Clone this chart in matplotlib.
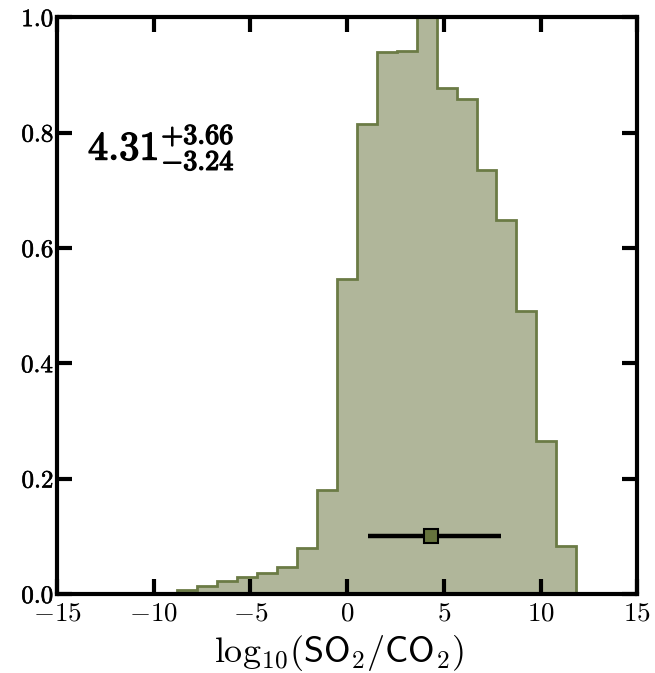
import numpy as np
import matplotlib.pyplot as plt
import matplotlib.patheffects as pe

plt.rcParams['mathtext.fontset'] = 'cm'
plt.rcParams['font.family'] = 'serif'

# Histogram (normalised to peak)
bin_edges = np.linspace(-8.8, 11.85, 21)
heights = [0.007, 0.014, 0.022, 0.029, 0.036, 0.046, 0.079, 0.181, 0.546, 0.815,
           0.940, 0.942, 1.000, 0.877, 0.858, 0.735, 0.648, 0.490, 0.265, 0.083]

median = 4.31
err_plus = 3.66
err_minus = 3.24
marker_y = 0.1

xticks = [-15, -10, -5, 0, 5, 10, 15]
yticks = [0.0, 0.2, 0.4, 0.6, 0.8, 1.0]

fig = plt.figure(figsize=(6.55, 6.73), dpi=100)
ax = fig.add_axes([0.087, 0.1174, 0.886, 0.857])

centers = 0.5 * (bin_edges[:-1] + bin_edges[1:])
ax.hist(centers, bins=bin_edges, weights=heights, histtype='stepfilled',
        facecolor='#b0b69a', edgecolor='#6b7b45', linewidth=2)

ax.errorbar([median], [marker_y], xerr=[[err_minus], [err_plus]], fmt='s',
            color='black', ecolor='black', elinewidth=3.2, capsize=0,
            markersize=10, markerfacecolor='#66733d', markeredgecolor='black',
            markeredgewidth=1.5)

bold = [pe.withStroke(linewidth=1.0, foreground='black')]
ax.text(-13.4, 0.775, r'$4.31^{+3.66}_{-3.24}$', fontsize=29,
        va='center', ha='left', path_effects=bold)

ax.set_xlim(-15, 15)
ax.set_ylim(0, 1.0)
ax.set_xticks(xticks)
ax.set_yticks(yticks)
ax.set_xticklabels([r'$%d$' % t for t in xticks], fontsize=19.5)
ylabs = ax.set_yticklabels([r'$%.1f$' % t for t in yticks], fontsize=18)
for t in ylabs:
    t.set_path_effects([pe.withStroke(linewidth=0.4, foreground='black')])
ax.tick_params(direction='in', length=11, width=3, top=True, right=True, pad=4)
ax.tick_params(axis='y', pad=2)
for sp in ax.spines.values():
    sp.set_linewidth(3)

ax.set_xlabel(r'$\mathrm{log}_{10}(\mathsf{SO_2/CO_2})$', fontsize=26, labelpad=0)
ax.xaxis.set_label_coords(0.485, -0.068)

fig.savefig('out.png', dpi=100)
